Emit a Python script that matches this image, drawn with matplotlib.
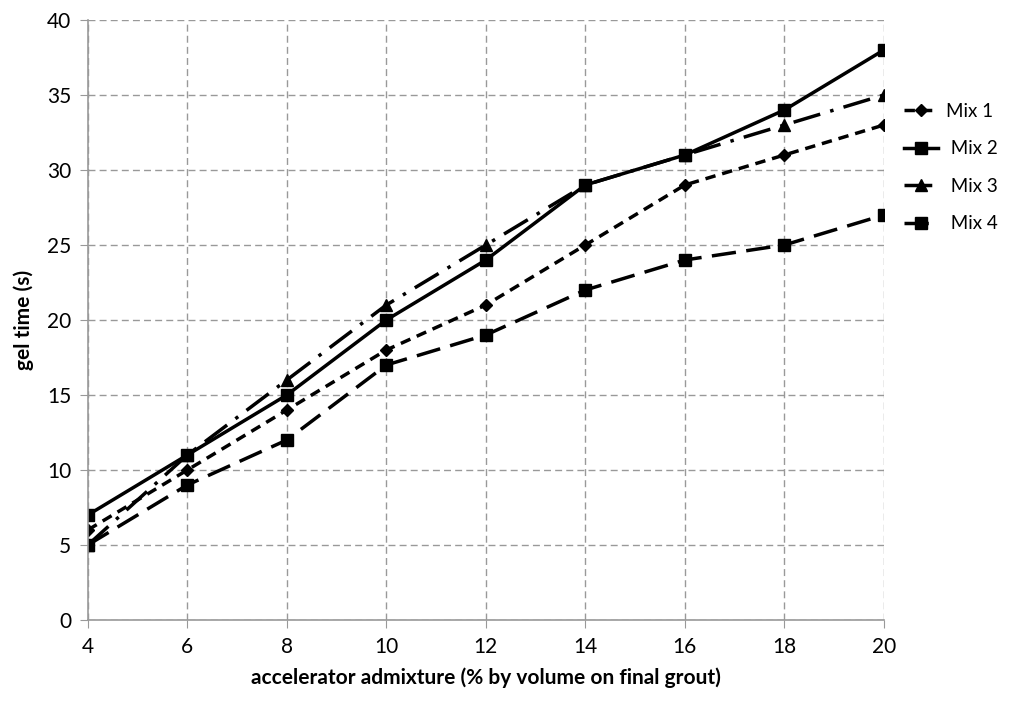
import matplotlib
matplotlib.use("Agg")
import matplotlib.pyplot as plt

x = [4, 6, 8, 10, 12, 14, 16, 18, 20]
mix1 = [6, 10, 14, 18, 21, 25, 29, 31, 33]
mix2 = [7, 11, 15, 20, 24, 29, 31, 34, 38]
mix3 = [5, 11, 16, 21, 25, 29, 31, 33, 35]
mix4 = [5, 9, 12, 17, 19, 22, 24, 25, 27]
labels = ["Mix 1", " Mix 2", " Mix 3", " Mix 4"]

plt.rcParams['font.family'] = ['Lato', 'DejaVu Sans']
plt.rcParams['font.size'] = 13

fig = plt.figure(figsize=(10.09, 7.01), dpi=100)
ax = fig.add_axes([0.087, 0.1155, 0.789, 0.856])

ax.plot(x, mix1, color='black', lw=2.5, ls=(0, (3, 2)), marker='D', ms=6, label=labels[0])
ax.plot(x, mix2, color='black', lw=2.5, ls='-', marker='s', ms=9, label=labels[1])
ax.plot(x, mix3, color='black', lw=2.5, ls=(0, (8, 3, 1, 3)), marker='^', ms=8, label=labels[2])
ax.plot(x, mix4, color='black', lw=2.5, ls=(0, (7, 3)), marker='s', ms=8, label=labels[3])

ax.set_xlim(4, 20)
ax.set_ylim(0, 40)
ax.set_xticks(range(4, 21, 2))
ax.set_yticks(range(0, 41, 5))
ax.grid(True, color='#999999', ls=(0, (5, 3)), lw=1)
for s in ['top', 'right']:
    ax.spines[s].set_visible(False)
for s in ['left', 'bottom']:
    ax.spines[s].set_color('#999999')
    ax.spines[s].set_linewidth(1.2)
ax.tick_params(length=6, color='#999999', labelsize=15, pad=6)

ax.set_xlabel('accelerator admixture (% by volume on final grout)', fontweight='bold', fontsize=15, labelpad=8)
ax.set_ylabel('gel time (s)', fontweight='bold', fontsize=15, labelpad=9)

ax.legend(loc='upper left', bbox_to_anchor=(1.014, 0.878), frameon=False, handlelength=1.8,
          handletextpad=0.4, borderpad=0.2, borderaxespad=0.3,
          labelspacing=1.1, fontsize=13.5)

fig.savefig('out.png', dpi=100)
